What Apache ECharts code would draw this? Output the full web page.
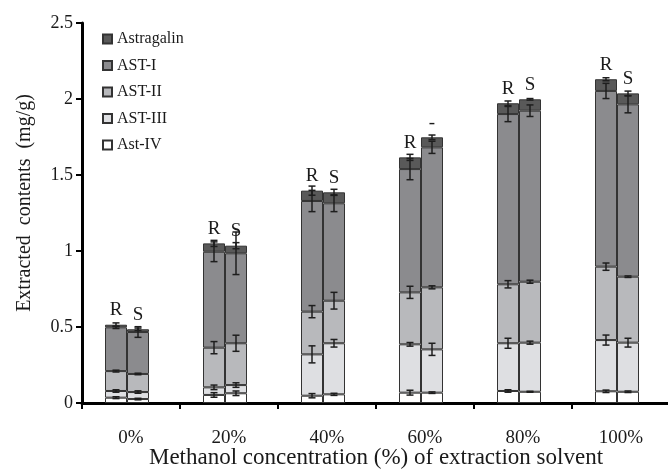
<!DOCTYPE html>
<html>
<head>
<meta charset="utf-8">
<script src="https://cdn.jsdelivr.net/npm/echarts@6/dist/echarts.min.js"></script>
<style>
  html, body { margin: 0; padding: 0; background: #ffffff; }
  #chart { width: 668px; height: 470px; }
</style>
</head>
<body>
<div id="chart"></div>
<script>
// Methanol share of the extraction solvent
const categories = ['0%', '20%', '40%', '60%', '80%', '100%'];

// Stack labels above each bar pair
const rLabels = ['R', 'R', 'R', 'R', 'R', 'R'];
const sLabels = ['S', 'S', 'S', '-', 'S', 'S'];

// Extracted contents (mg/g), R samples, bottom to top of the stack
const rAstIV      = [0.035, 0.053, 0.048, 0.068, 0.079, 0.077];
const rAstIII     = [0.044, 0.050, 0.272, 0.318, 0.314, 0.337];
const rAstII      = [0.131, 0.261, 0.281, 0.342, 0.388, 0.483];
const rAstI       = [0.288, 0.631, 0.728, 0.811, 1.120, 1.156];
const rAstragalin = [0.017, 0.055, 0.068, 0.077, 0.071, 0.077];

// Extracted contents (mg/g), S samples
const sAstIV      = [0.026, 0.064, 0.057, 0.068, 0.074, 0.074];
const sAstIII     = [0.046, 0.054, 0.336, 0.285, 0.323, 0.323];
const sAstII      = [0.119, 0.275, 0.280, 0.408, 0.401, 0.434];
const sAstI       = [0.276, 0.592, 0.641, 0.921, 1.125, 1.134];
const sAstragalin = [0.018, 0.050, 0.072, 0.066, 0.075, 0.072];

// Standard deviations (mg/g) for each segment
const rErrIV      = [0.006, 0.015, 0.014, 0.016, 0.008, 0.008];
const rErrIII     = [0.008, 0.015, 0.056, 0.012, 0.033, 0.033];
const rErrII      = [0.006, 0.040, 0.040, 0.040, 0.024, 0.024];
const rErrI       = [0.008, 0.065, 0.070, 0.070, 0.050, 0.050];
const rErrAstrag  = [0.012, 0.020, 0.030, 0.020, 0.015, 0.010];

const sErrIV      = [0.005, 0.015, 0.007, 0.005, 0.003, 0.005];
const sErrIII     = [0.008, 0.015, 0.025, 0.040, 0.010, 0.029];
const sErrII      = [0.005, 0.053, 0.055, 0.010, 0.010, 0.005];
const sErrI       = [0.035, 0.140, 0.055, 0.040, 0.038, 0.056];
const sErrAstrag  = [0.008, 0.020, 0.020, 0.015, 0.005, 0.015];

const componentNames = ['Ast-IV', 'AST-III', 'AST-II', 'AST-I', 'Astragalin'];
const legendOrder = ['Astragalin', 'AST-I', 'AST-II', 'AST-III', 'Ast-IV'];

const fills = {
  'Ast-IV': '#ffffff',
  'AST-III': '#dedfe2',
  'AST-II': '#b8b9bc',
  'AST-I': '#8b8b8e',
  'Astragalin': '#595959'
};

const SERIF = 'Liberation Serif, Times New Roman, serif';
const BAR_W = 22;
const PAD_W = 8;
const GROUP_W = BAR_W * 2 + PAD_W;
const R_CENTER = -GROUP_W / 2 + BAR_W / 2;
const S_CENTER = -GROUP_W / 2 + BAR_W + BAR_W / 2;

const rStack = [rAstIV, rAstIII, rAstII, rAstI, rAstragalin];
const sStack = [sAstIV, sAstIII, sAstII, sAstI, sAstragalin];
const rErrs = [rErrIV, rErrIII, rErrII, rErrI, rErrAstrag];
const sErrs = [sErrIV, sErrIII, sErrII, sErrI, sErrAstrag];

function barSeries(stack, values, names, labels) {
  return values.map((vals, k) => {
    const top = k === values.length - 1;
    return {
      type: 'bar',
      name: names[k],
      stack: stack,
      data: vals,
      barWidth: BAR_W,
      barGap: '0%',
      itemStyle: { color: fills[names[k]], borderColor: '#333333', borderWidth: 1 },
      label: top ? {
        show: true,
        position: 'top',
        distance: 5,
        formatter: p => labels[p.dataIndex],
        fontFamily: SERIF,
        fontSize: 19,
        color: '#1a1a1a'
      } : { show: false },
      emphasis: { disabled: true }
    };
  });
}

function errorSeries(values, errs, centerOffset) {
  const data = [];
  for (let i = 0; i < categories.length; i++) {
    let cum = 0;
    for (let k = 0; k < values.length; k++) {
      cum += values[k][i];
      data.push([i, cum, errs[k][i]]);
    }
  }
  return {
    type: 'custom',
    data: data,
    z: 5,
    silent: true,
    renderItem: function (params, api) {
      const i = api.value(0), v = api.value(1), e = api.value(2);
      const hi = api.coord([i, v + e]);
      const lo = api.coord([i, v - e]);
      const x = hi[0] + centerOffset;
      const cap = 3.5;
      const st = { stroke: '#1e1e1e', lineWidth: 1.5 };
      return {
        type: 'group',
        children: [
          { type: 'line', shape: { x1: x, y1: hi[1], x2: x, y2: lo[1] }, style: st },
          { type: 'line', shape: { x1: x - cap, y1: hi[1], x2: x + cap, y2: hi[1] }, style: st },
          { type: 'line', shape: { x1: x - cap, y1: lo[1], x2: x + cap, y2: lo[1] }, style: st }
        ]
      };
    }
  };
}

const series = []
  .concat(barSeries('R', rStack, componentNames, rLabels))
  .concat(barSeries('S', sStack, componentNames, sLabels))
  .concat([{
    // empty slot to the right of each pair
    type: 'bar',
    name: 'pad',
    stack: 'pad',
    data: categories.map(() => 0),
    barWidth: PAD_W,
    itemStyle: { color: 'rgba(0,0,0,0)', borderWidth: 0 },
    silent: true
  }])
  .concat([errorSeries(rStack, rErrs, R_CENTER), errorSeries(sStack, sErrs, S_CENTER)]);

const chart = echarts.init(document.getElementById('chart'), null, { renderer: 'canvas' });
chart.setOption({
  animation: false,
  backgroundColor: '#ffffff',
  grid: { left: 82, right: -2, top: 23, bottom: 67, outerBoundsMode: 'none', containLabel: false },
  legend: {
    data: legendOrder,
    orient: 'vertical',
    left: 97,
    top: 26,
    itemWidth: 9,
    itemHeight: 9,
    itemGap: 10.5,
    icon: 'rect',
    selectedMode: false,
    textStyle: { fontFamily: SERIF, fontSize: 16, color: '#1a1a1a', lineHeight: 16 }
  },
  xAxis: {
    type: 'category',
    data: categories,
    name: 'Methanol concentration (%) of extraction solvent',
    nameLocation: 'middle',
    nameGap: 43,
    nameMoveOverlap: false,
    nameTextStyle: { fontFamily: SERIF, fontSize: 23, color: '#1a1a1a' },
    axisLine: { lineStyle: { color: '#000000', width: 3 } },
    axisTick: { show: true, length: 6, lineStyle: { color: '#000000', width: 2 } },
    axisLabel: { fontFamily: SERIF, fontSize: 19, color: '#1a1a1a', margin: 26 }
  },
  yAxis: {
    type: 'value',
    min: 0,
    max: 2.5,
    interval: 0.5,
    name: 'Extracted  contents  (mg/g)',
    nameLocation: 'middle',
    nameGap: 47,
    nameMoveOverlap: false,
    nameTextStyle: { fontFamily: SERIF, fontSize: 20, color: '#1a1a1a', padding: [0, 0, 0, 20] },
    splitLine: { show: false },
    axisLine: { show: true, lineStyle: { color: '#000000', width: 3 } },
    axisTick: { show: true, length: 6, lineStyle: { color: '#000000', width: 2 } },
    axisLabel: { fontFamily: SERIF, fontSize: 18, color: '#1a1a1a', margin: 9 }
  },
  series: series
});
</script>
</body>
</html>
